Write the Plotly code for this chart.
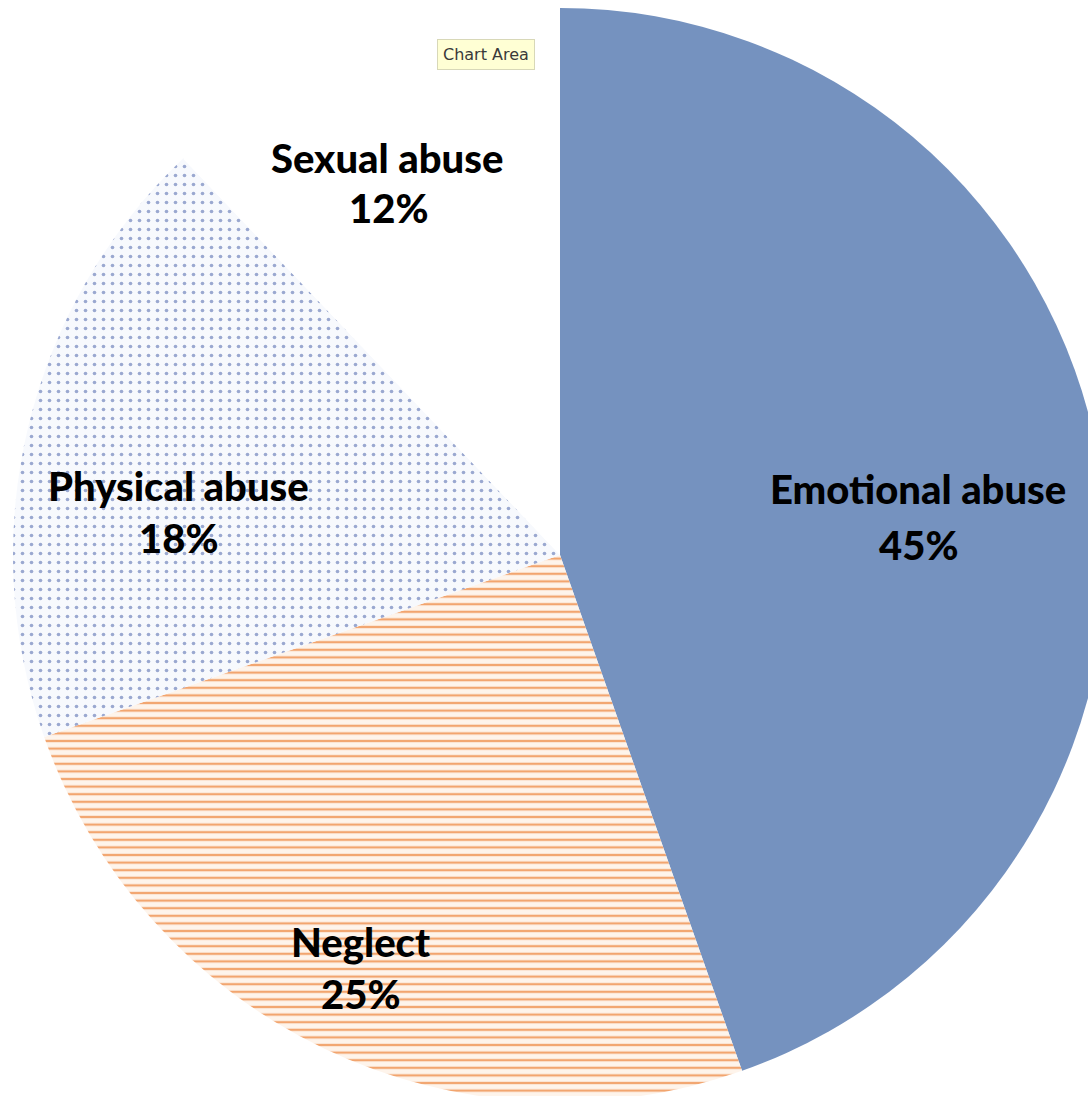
import plotly.graph_objects as go

# ---- data ----
categories = ["Emotional abuse", "Neglect", "Physical abuse", "Sexual abuse"]
values = [44.6, 25.0, 18.3, 12.1]
pct_labels = ["45%", "25%", "18%", "12%"]

# ---- layout / style ----
W, H = 1107, 1102
ML, MT = 13, 8
D = 1094  # pie box size in px

fill_colors = ["#7592BF", "#FEF4EB", "#F7F9FD", "#FFFFFF"]
pattern_shapes = ["", "-", ".", ""]
pattern_fg = ["#7592BF", "#F2A56F", "#9AA8D0", "#FFFFFF"]
pattern_bg = ["#7592BF", "#FEF4EB", "#F7F9FD", "#FFFFFF"]
pattern_size = [8, 7.6, 9, 8]
pattern_solidity = [0.3, 0.3, 0.13, 0.3]

# label centres in pixels (line 1, line 2)
label_pos = [((918, 489), (918, 545)),
             ((360, 942), (360, 994)),
             ((178, 486), (178, 538)),
             ((387, 158), (388, 208))]


def px_to_paper(x, y):
    return (x - ML) / D, 1 - (y - MT) / D


fig = go.Figure(go.Pie(
    labels=categories,
    values=values,
    sort=False,
    direction="clockwise",
    rotation=0,
    textinfo="none",
    hoverinfo="label+percent",
    marker=dict(
        colors=fill_colors,
        line=dict(width=0, color="white"),
        pattern=dict(shape=pattern_shapes, fgcolor=pattern_fg, bgcolor=pattern_bg,
                     size=pattern_size, solidity=pattern_solidity, fillmode="replace"),
    ),
    domain=dict(x=[0, 1], y=[0, 1]),
    showlegend=False,
))

font_main = dict(family="Lato, 'Open Sans', sans-serif", size=40, color="#000000",
                 weight=900)
annotations = []
for name, pct, (p1, p2) in zip(categories, pct_labels, label_pos):
    for txt, p in ((name, p1), (pct, p2)):
        x, y = px_to_paper(*p)
        annotations.append(dict(x=x, y=y, xref="paper", yref="paper", text=txt,
                                showarrow=False, xanchor="center", yanchor="middle",
                                font=font_main))

cx, cy = px_to_paper(486, 54)
annotations.append(dict(x=cx, y=cy, xref="paper", yref="paper", text="Chart Area",
                        showarrow=False, xanchor="center", yanchor="middle",
                        font=dict(family="DejaVu Sans", size=16, color="#3A3A3A"),
                        bgcolor="#FFFFD4", bordercolor="#D8D8B8", borderwidth=1,
                        borderpad=5))

fig.update_layout(
    width=W, height=H,
    margin=dict(l=ML, r=0, t=MT, b=0, pad=0),
    paper_bgcolor="white",
    plot_bgcolor="white",
    annotations=annotations,
)

fig.write_html("out.html",
               post_script="document.documentElement.style.overflow='hidden';document.body.style.overflow='hidden';document.body.style.margin='0';")
